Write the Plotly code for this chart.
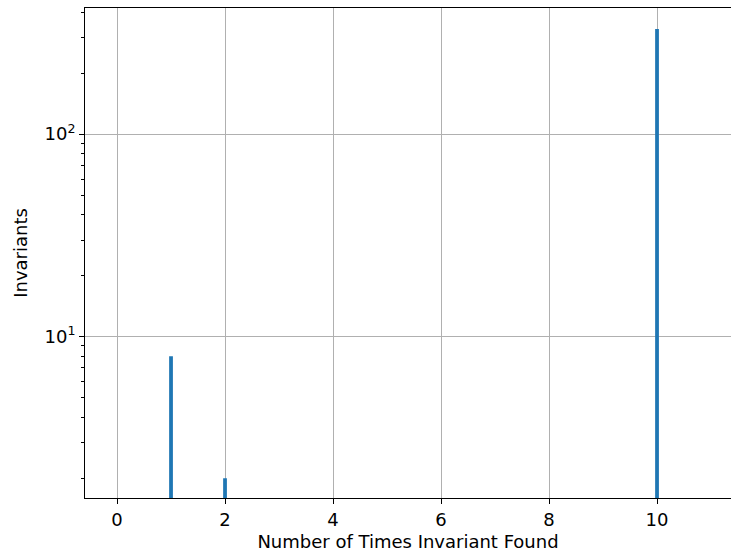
import plotly.graph_objects as go

# Data
times_found = [1, 2, 10]
invariant_counts = [8, 2, 331]

x_tick_vals = [0, 2, 4, 6, 8, 10]
y_tick_vals = [10, 100]
y_tick_text = ["10<sup>1</sup>", "10<sup>2</sup>"]
y_minor_vals = [2, 3, 4, 5, 6, 7, 8, 9, 20, 30, 40, 50, 60, 70, 80, 90, 200, 300, 400]

fig = go.Figure()
fig.add_trace(go.Bar(
    x=times_found,
    y=invariant_counts,
    width=0.07,
    marker=dict(color="#1f77b4", line=dict(width=0)),
))

font = dict(family="DejaVu Sans", size=18, color="black")

fig.update_layout(
    width=731, height=552,
    margin=dict(l=85, r=0, t=8, b=54),
    paper_bgcolor="white", plot_bgcolor="white",
    showlegend=False,
    font=font,
    xaxis=dict(
        range=[-0.593, 11.37],
        tickmode="array", tickvals=x_tick_vals,
        showgrid=True, gridcolor="#b0b0b0", gridwidth=1,
        showline=True, linecolor="black", linewidth=1, mirror=True,
        ticks="outside", ticklen=5, tickcolor="black", tickwidth=1,
        zeroline=False,
        title=dict(text="Number of Times Invariant Found", standoff=10, font=font),
        tickfont=font,
    ),
    yaxis=dict(
        type="log",
        range=[0.203, 2.623],
        tickmode="array", tickvals=y_tick_vals, ticktext=y_tick_text,
        showgrid=True, gridcolor="#b0b0b0", gridwidth=1,
        showline=True, linecolor="black", linewidth=1, mirror=False,
        ticks="outside", ticklen=5, tickcolor="black", tickwidth=1,
        minor=dict(tickmode="array", tickvals=y_minor_vals, ticks="outside",
                   ticklen=3, tickcolor="black", tickwidth=1, showgrid=False),
        zeroline=False,
        title=dict(text="Invariants", standoff=12, font=font),
        tickfont=font,
    ),
)

fig.write_html(
    "out.html",
    config={"displayModeBar": False},
    post_script="document.body.style.margin='0';document.body.style.overflow='hidden';",
)
